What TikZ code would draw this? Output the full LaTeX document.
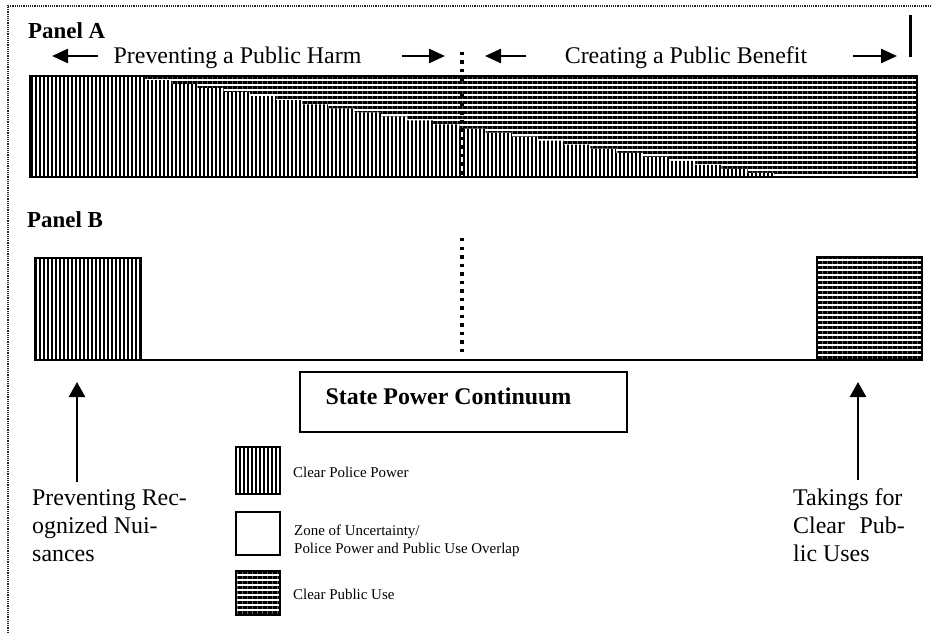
\documentclass[tikz,border=0pt]{standalone}
\usepackage{fontspec}
\setmainfont{Liberation Serif}
\usetikzlibrary{patterns.meta,arrows.meta}
\begin{document}
\begin{tikzpicture}[x=1bp,y=-1bp,
  big/.style={font=\fontsize{24}{28}\selectfont, inner sep=0pt},
  bigb/.style={font=\bfseries\fontsize{23}{27}\selectfont, inner sep=0pt},
  small/.style={font=\fontsize{15}{18}\selectfont, inner sep=0pt},
  vpat/.style={pattern={Lines[angle=90,distance=4bp,line width=2.5bp]}, pattern color=black},
  hpat/.style={pattern={Lines[angle=0,distance=5bp,line width=3bp]}, pattern color=black},
  boxline/.style={draw=black, line width=2bp},
  harrow/.style={line width=2.5bp, -{Triangle[length=16bp,width=14bp]}},
  varrow/.style={line width=2.5bp, -{Triangle[length=15bp,width=16bp]}},
  dotline/.style={line width=3.5bp, dash pattern=on 3.5bp off 5bp},
  frame/.style={line width=1.3bp, dash pattern=on 1.2bp off 1bp, black!85}
]
\useasboundingbox (0,0) rectangle (931,633);
% outer dotted frame (top and left only)
\coordinate (f1) at (8,633);
\coordinate (f2) at (8,6);
\coordinate (f3) at (931,6);
\draw[frame] (f1) -- (f2) -- (f3);

% ---------- Panel A ----------
\node[bigb, anchor=base west] (pa) at (28,39) {Panel A};
\node[big, anchor=base] (harm) at (237.5,64) {Preventing a Public Harm};
\node[big, anchor=base] (benefit) at (686,64) {Creating a Public Benefit};
\coordinate (a1s) at (98,56);  \coordinate (a1e) at (52,56);
\coordinate (a2s) at (402,56); \coordinate (a2e) at (445,56);
\coordinate (a3s) at (526,56); \coordinate (a3e) at (485,56);
\coordinate (a4s) at (853,56); \coordinate (a4e) at (897,56);
\draw[harrow] (a1s) -- (a1e);
\draw[harrow] (a2s) -- (a2e);
\draw[harrow] (a3s) -- (a3e);
\draw[harrow] (a4s) -- (a4e);
\coordinate (vt) at (910,15); \coordinate (vb) at (910,57);
\draw[line width=3bp] (vt) -- (vb);

% bar
\fill[hpat] (30,76) rectangle (917,177);
\fill[white] (30,177) -- (30,76) -- (145,76)
  \foreach \i in {1,...,25}{ -- ++(0,4.04) -- ++(26.2,0) } -- cycle;
\fill[vpat] (30,177) -- (30,76) -- (145,76)
  \foreach \i in {1,...,25}{ -- ++(0,4.04) -- ++(26.2,0) } -- cycle;
\draw[boxline] (30,76) rectangle (917,177);
\coordinate (dA1) at (462,52); \coordinate (dA2) at (462,177);
\draw[dotline] (dA1) -- (dA2);

% ---------- Panel B ----------
\node[bigb, anchor=base west] (pb) at (27,228) {Panel B};
\draw[boxline, vpat] (35,258) rectangle (141,360);
\draw[boxline, hpat] (817,257) rectangle (922,360);
\coordinate (bl1) at (141,360); \coordinate (bl2) at (817,360);
\draw[line width=2bp] (bl1) -- (bl2);
\coordinate (dB1) at (462,238); \coordinate (dB2) at (462,352);
\draw[dotline] (dB1) -- (dB2);

\node[boxline, minimum width=327bp, minimum height=60bp, inner sep=0pt] (spc) at (463.5,402) {};
\node[font=\bfseries\fontsize{24}{28}\selectfont, inner sep=0pt, anchor=base] (spct) at (448.5,404) {State Power Continuum};

% arrows
\coordinate (la0) at (77,482); \coordinate (la1) at (77,382);
\coordinate (ra0) at (858,480); \coordinate (ra1) at (858,382);
\draw[varrow] (la0) -- (la1);
\draw[varrow] (ra0) -- (ra1);

% left text
\node[big, anchor=base west] (l1) at (32,505) {Preventing Rec-};
\node[big, anchor=base west] (l2) at (32,533) {ognized Nui-};
\node[big, anchor=base west] (l3) at (32,561) {sances};
% right text
\node[big, anchor=base west] (r1) at (793,505) {Takings for};
\node[big, anchor=base west] (r2) at (793,533) {Clear};
\node[big, anchor=base east] (r2b) at (905,533) {Pub-};
\node[big, anchor=base west] (r3) at (793,561) {lic Uses};

% legend
\draw[boxline, vpat] (236,447) rectangle (280,494);
\draw[boxline] (236,512) rectangle (280,555);
\draw[boxline, hpat] (236,571) rectangle (280,615);
\node[small, anchor=base west] (g1) at (293,477) {Clear Police Power};
\node[small, anchor=base west] (g2) at (294,535) {Zone of Uncertainty/};
\node[small, anchor=base west] (g3) at (294,553) {Police Power and Public Use Overlap};
\node[small, anchor=base west] (g4) at (293,599) {Clear Public Use};
\end{tikzpicture}
\end{document}
